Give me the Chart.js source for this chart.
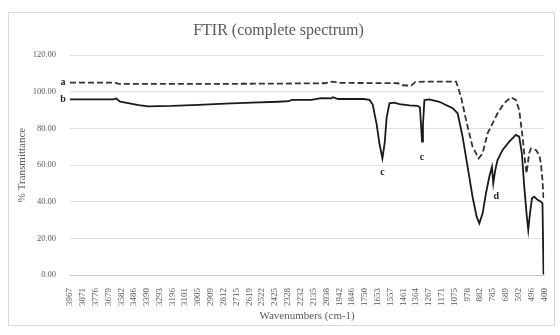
<!DOCTYPE html>
<html>
<head>
<meta charset="utf-8">
<script src="https://cdn.jsdelivr.net/npm/chart.js@4"></script>
<style>
  html, body { margin: 0; padding: 0; background: #fff; }
  #box { width: 560px; height: 335px; }
</style>
</head>
<body>
<div id="box"><canvas id="grafico-ftir"></canvas></div>
<script>
// tick labels on the wavenumber axis
const xLabels = [3967, 3871, 3776, 3679, 3582, 3486, 3390, 3293, 3196, 3101, 3005, 2909, 2812, 2715,
  2619, 2522, 2425, 2328, 2232, 2135, 2038, 1942, 1846, 1750, 1653, 1557, 1461, 1364, 1267, 1171,
  1075, 978, 882, 785, 689, 592, 496, 400];

// spectrum a (dashed)
const ondaA = [3967, 3630, 3600, 3000, 2400, 2050, 1992, 1940, 1500, 1467, 1400, 1370, 1300, 1063,
  1026, 988, 939, 893, 863, 826, 788, 751, 701, 650, 613, 588, 563, 543, 533, 513, 500, 462, 438,
  425, 413, 405];
const transA = [104.9, 104.9, 104.3, 104.2, 104.4, 104.6, 105.5, 104.8, 104.6, 103.5, 103.3, 105.2,
  105.5, 105.5, 97.3, 84.6, 70, 63.6, 66.4, 77.3, 82.7, 88.2, 93.7, 96.9, 95.5, 90, 75.5, 61, 55.5,
  66.4, 69, 68.2, 65.5, 61, 51.8, 42];

// spectrum b (solid)
const ondaB = [3967, 3640, 3620, 3590, 3520, 3450, 3380, 3200, 3000, 2800, 2600, 2400, 2320, 2300,
  2150, 2080, 2000, 1990, 1950, 1760, 1714, 1690, 1660, 1640, 1617, 1600, 1585, 1564, 1527, 1489,
  1414, 1354, 1335, 1325, 1319, 1312, 1301, 1264, 1189, 1089, 1051, 1014, 976, 939, 908, 888, 863,
  838, 813, 793, 783, 768, 751, 713, 663, 613, 588, 568, 550, 533, 520, 507, 492, 475, 450, 425,
  413, 405, 400];
const transB = [95.8, 95.8, 96.3, 94.5, 93.6, 92.6, 92.0, 92.2, 92.8, 93.5, 94.0, 94.5, 94.8, 95.5,
  95.5, 96.5, 96.3, 97.0, 96.0, 96.0, 95.5, 93, 82, 72, 63.6, 72, 86, 93.6, 94, 93.2,
  92.5, 92.3, 91.5, 80, 72.7, 82, 95.4, 95.8, 94.5, 91, 88.2, 75.5, 59, 42.7, 31.8, 28.2, 33.6,
  44.6, 53.6, 59, 50, 57.3, 62.7, 68.2, 72.7, 76.4, 75.5, 66.4, 48.2, 33.6, 24.5, 33.6, 41.8, 42.7,
  41, 40, 39.1, 0.9, 0.5];

// letters marking the bands
const marcas = [
  { texto: "a", x: 3967, y: 104.9, dx: -7, dy: 0 },
  { texto: "b", x: 3967, y: 95.8, dx: -7, dy: 0 },
  { texto: "c", x: 1617, y: 56, dx: 0, dy: 0 },
  { texto: "c", x: 1319, y: 64, dx: 0, dy: 0 },
  { texto: "d", x: 761, y: 43, dx: 0, dy: 0 }
];

const serif = "'Liberation Serif', 'Times New Roman', serif";
const cinza = "#595959";

const pontos = (xs, ys) => xs.map((x, i) => ({ x, y: ys[i] }));

const moldura = {
  id: "moldura",
  beforeDraw(chart) {
    const c = chart.ctx;
    c.save();
    c.fillStyle = "#fff";
    c.fillRect(0, 0, chart.width, chart.height);
    c.strokeStyle = "#d9d9d9";
    c.lineWidth = 1;
    c.strokeRect(8.5, 12.5, 546, 313);
    c.restore();
  }
};

const letras = {
  id: "letras",
  afterDatasetsDraw(chart) {
    const c = chart.ctx;
    const sx = chart.scales.x, sy = chart.scales.y;
    c.save();
    c.font = "bold 10px " + serif;
    c.fillStyle = "#222";
    c.textAlign = "center";
    c.textBaseline = "middle";
    marcas.forEach(m => {
      c.fillText(m.texto, sx.getPixelForValue(m.x) + m.dx, sy.getPixelForValue(m.y) + m.dy);
    });
    c.restore();
  }
};

new Chart(document.getElementById("grafico-ftir"), {
  type: "line",
  data: {
    datasets: [
      {
        label: "a",
        data: pontos(ondaA, transA),
        borderColor: "#333",
        borderWidth: 1.8,
        borderDash: [6, 3],
        pointRadius: 0,
        tension: 0
      },
      {
        label: "b",
        data: pontos(ondaB, transB),
        borderColor: "#1a1a1a",
        borderWidth: 1.8,
        pointRadius: 0,
        tension: 0
      }
    ]
  },
  options: {
    responsive: true,
    maintainAspectRatio: false,
    animation: false,
    layout: { padding: { top: 8, left: 12, right: 15, bottom: 10 } },
    plugins: {
      legend: { display: false },
      tooltip: { enabled: false },
      title: {
        display: true,
        text: "FTIR (complete spectrum)",
        color: cinza,
        font: { family: serif, size: 16, weight: "normal" },
        padding: { top: 13, bottom: 14.8 }
      }
    },
    scales: {
      x: {
        type: "linear",
        reverse: true,
        min: 400,
        max: 3967,
        afterBuildTicks: s => { s.ticks = xLabels.map(v => ({ value: v })); },
        afterFit: s => { s.height = 50; },
        grid: { display: false },
        border: { color: "#c8c8c8" },
        ticks: {
          autoSkip: false,
          minRotation: 90,
          maxRotation: 90,
          color: cinza,
          font: { family: serif, size: 9 },
          padding: 5,
          callback: v => String(v)
        },
        title: {
          display: true,
          text: "Wavenumbers (cm-1)",
          color: cinza,
          font: { family: serif, size: 11 },
          padding: { top: 2, bottom: 2 }
        }
      },
      y: {
        min: 0,
        max: 120,
        afterFit: s => { s.width = 58; },
        grid: { color: "#e0e0e0", drawTicks: false },
        border: { display: false },
        ticks: {
          stepSize: 20,
          color: cinza,
          font: { family: serif, size: 8.5 },
          padding: 14,
          callback: v => v.toFixed(2)
        },
        title: {
          display: true,
          text: "% Transmittance",
          color: cinza,
          font: { family: serif, size: 11 },
          padding: { top: 4, bottom: 4 }
        }
      }
    }
  },
  plugins: [moldura, letras]
});
</script>
</body>
</html>
